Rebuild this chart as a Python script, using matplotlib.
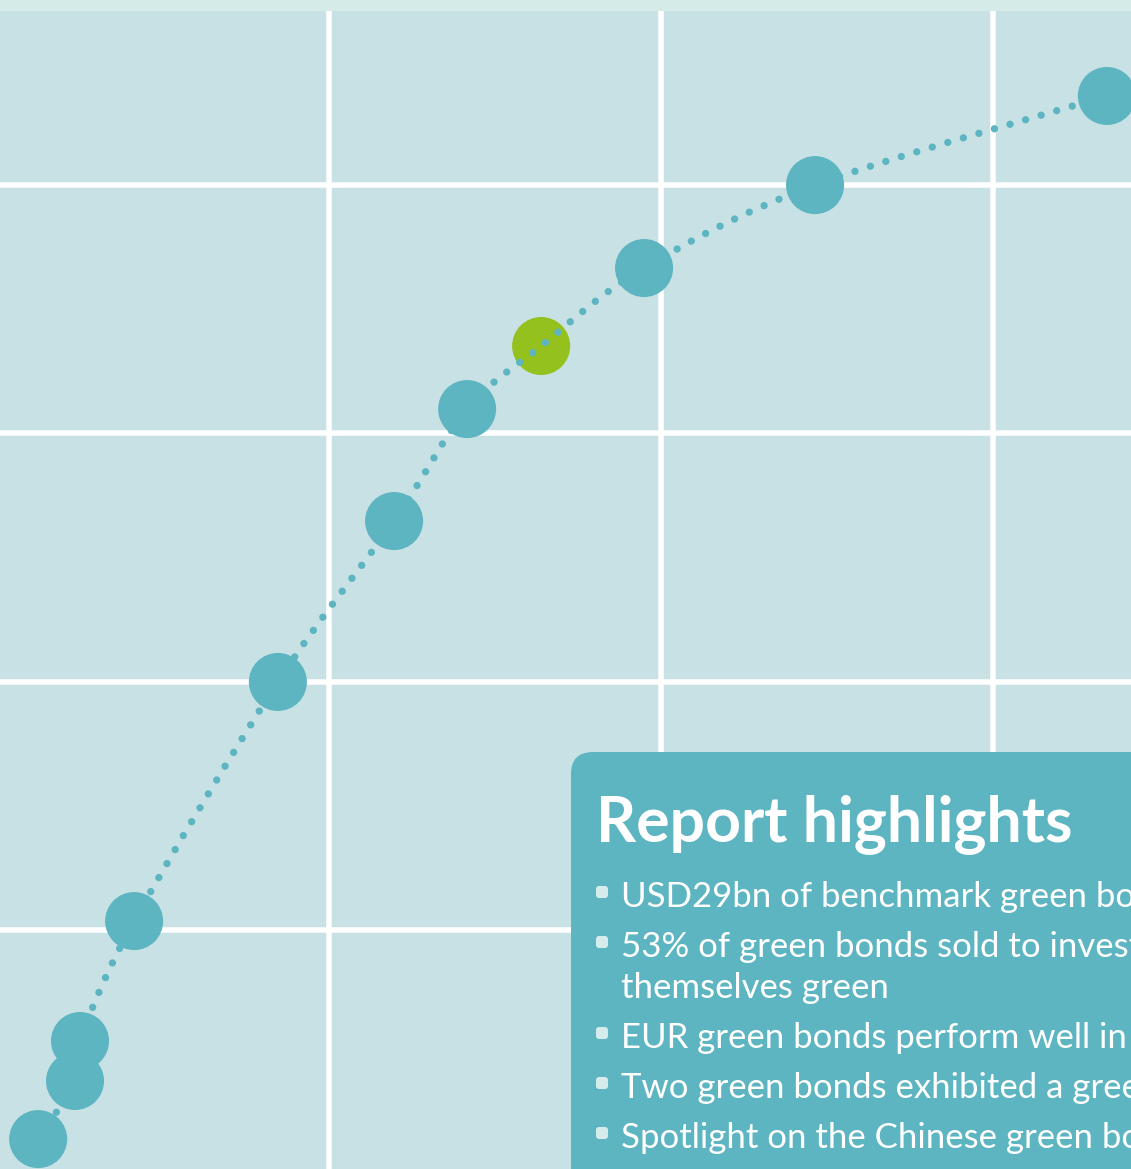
import matplotlib
matplotlib.use("Agg")
import matplotlib.pyplot as plt
import numpy as np
from matplotlib.path import Path
from matplotlib.patches import PathPatch, FancyBboxPatch

# ---- data ----
x_vals = [0.124, 0.235, 0.250, 0.413, 0.846, 1.196, 1.416, 1.639, 1.949, 2.464, 3.343]
y_vals = [0.158, 0.392, 0.553, 1.036, 1.999, 2.647, 3.098, 3.352, 3.666, 4.000, 4.359]
highlight_index = 7
x_grid = [1, 2, 3]
y_grid = [1, 2, 3, 4]
title = "Report highlights"
bullets = [
    ["USD29bn of benchmark green bonds priced"],
    ["53% of green bonds sold to investors who are", "themselves green"],
    ["EUR green bonds perform well in primary markets"],
    ["Two green bonds exhibited a greenium"],
    ["Spotlight on the Chinese green bond market"],
]

# ---- style ----
W, H, DPI = 1131, 1169, 100
BG = "#c7e1e5"
STRIP = "#d5ebe8"
BLUE = "#5db5c2"
GREEN = "#95c11f"
BULLET = "#d6ecec"

fig = plt.figure(figsize=(W / DPI, H / DPI), dpi=DPI, facecolor=STRIP)
ax = fig.add_axes([0, 0, 1, (H - 11) / H])
ax.set_facecolor(BG)
ax.set_xlim(0.009, 3.4157)
ax.set_ylim(0.0375, 4.7012)
for s in ax.spines.values():
    s.set_visible(False)
ax.set_xticks(x_grid)
ax.set_yticks(y_grid)
ax.tick_params(length=0, labelbottom=False, labelleft=False)
ax.grid(True, color="white", linewidth=4.0, zorder=0)
ax.set_axisbelow(True)

# markers
colors = [GREEN if i == highlight_index else BLUE for i in range(len(x_vals))]
ax.scatter(x_vals, y_vals, s=41.8 ** 2, c=colors, linewidths=0, zorder=3)

# smooth dotted connector (Catmull-Rom through data points)
P = np.column_stack([x_vals, y_vals])
n = len(P)
verts = [P[0]]
codes = [Path.MOVETO]
for i in range(n - 1):
    p0 = P[i - 1] if i > 0 else P[i]
    p1 = P[i]
    p2 = P[i + 1]
    p3 = P[i + 2] if i + 2 < n else P[i + 1]
    c1 = p1 + (p2 - p0) / 6.0
    c2 = p2 - (p3 - p1) / 6.0
    verts += [c1, c2, p2]
    codes += [Path.CURVE4] * 3
path = Path(verts, codes)
patch = PathPatch(path, fill=False, edgecolor=BLUE, linewidth=5.3,
                  linestyle=(0, (0.001, 2.2)), capstyle="round", zorder=4)
ax.add_patch(patch)

# overlay in pixel coordinates for the text box
ov = fig.add_axes([0, 0, 1, 1])
ov.set_xlim(0, W)
ov.set_ylim(H, 0)
ov.axis("off")
ov.patch.set_alpha(0)
box = FancyBboxPatch((571, 752), 700, 600, boxstyle="round,pad=0,rounding_size=22",
                     facecolor=BLUE, edgecolor="none", zorder=5)
ov.add_patch(box)
ov.text(596, 841, title, color="white", fontsize=45, fontweight="bold",
        family="Lato", va="baseline", ha="left", zorder=6)

baselines = [[907], [957, 998], [1048], [1098], [1148]]
for lines, bls in zip(bullets, baselines):
    bx = FancyBboxPatch((596, bls[0] - 21), 12, 12, boxstyle="round,pad=0,rounding_size=3",
                        facecolor=BULLET, edgecolor="none", zorder=6)
    ov.add_patch(bx)
    for line, bl in zip(lines, bls):
        ov.text(621, bl, line, color="white", fontsize=25, fontweight="normal",
                family="Lato", va="baseline", ha="left", zorder=6)

fig.savefig("out.png", dpi=DPI, facecolor=STRIP)
